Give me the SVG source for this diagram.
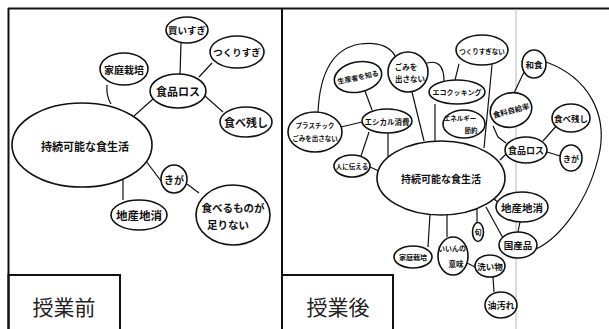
<svg xmlns="http://www.w3.org/2000/svg" width="609" height="329" viewBox="0 0 609 329">
<style>
.b{fill:#fff;stroke:#111;stroke-width:1.6}
.c{fill:none;stroke:#111;stroke-width:1.2}
.f{fill:none;stroke:#111;stroke-width:2}
.t{font-family:"Noto Sans CJK JP","Noto Sans CJK SC",sans-serif;text-anchor:middle;dominant-baseline:central;fill:#111;font-weight:bold}
.lab{font-family:"Noto Sans CJK JP","Noto Sans CJK SC",sans-serif;text-anchor:middle;font-size:21px;fill:#222}
</style>
<rect width="609" height="329" fill="#fff"/>
<g id="frame">
<path class="f" d="M8,8.5 H609 M8.5,8 V329 M282,8 V329"/>
<path d="M516,9 V329" stroke="#b5b5b5" stroke-width="1" fill="none"/>
<rect class="f" x="8.5" y="275" width="111.5" height="60" fill="#fff"/>
<rect class="f" x="282" y="275" width="111" height="60" fill="#fff"/>
<text class="lab" x="64" y="315">授業前</text>
<text class="lab" x="338" y="315">授業後</text>
</g>
<g id="connectors">
<path class="c" d="M181,43 L180,75"/>
<path class="c" d="M212,63 L199,77"/>
<path class="c" d="M205,96 L223,112"/>
<path class="c" d="M153,99 L134,116"/>
<path class="c" d="M107,85 Q106,96 111,104"/>
<path class="c" d="M146,161 L161,181"/>
<path class="c" d="M187,184 L199,193"/>
<path class="c" d="M123,179 L123,200"/>
<path class="c" d="M318,112 C320,70 335,48 360,44 C380,41 392,48 396,58"/>
<path class="c" d="M427,63 C438,60 444,66 444,81"/>
<path class="c" d="M412,92 L424,141"/>
<path class="c" d="M365,91 L372,110"/>
<path class="c" d="M341,127 L362,122"/>
<path class="c" d="M369,132 L361,156"/>
<path class="c" d="M388,133 L388,157"/>
<path class="c" d="M370,167 L379,171"/>
<path class="c" d="M459,64 L455,80"/>
<path class="c" d="M492,65 L484,148"/>
<path class="c" d="M435,104 L435,141"/>
<path class="c" d="M524,72 L514,93"/>
<path class="c" d="M493,126 L498,137 L506,143"/>
<path class="c" d="M506,154 L500,160"/>
<path class="c" d="M543,141 L558,124"/>
<path class="c" d="M547,152 L560,156"/>
<path class="c" d="M494,199 L499,203"/>
<path class="c" d="M520,222 L518,232"/>
<path class="c" d="M486,207 L503,238"/>
<path class="c" d="M477,209 L477,223"/>
<path class="c" d="M447,215 L447,237"/>
<path class="c" d="M430,214 L428,247"/>
<path class="c" d="M467,263 L475,267"/>
<path class="c" d="M493,277 L494,292"/>
<path class="c" d="M536,249 C560,238 590,200 600,150 C606,115 590,78 546,62"/>
</g>
<g id="L-main"><ellipse class="b" cx="82" cy="145" rx="70" ry="42"/><text class="t" x="85" y="146" font-size="11">持続可能な食生活</text></g>
<g id="L-kaisugi"><ellipse class="b" cx="187" cy="30" rx="21" ry="13"/><text class="t" x="187" y="30" font-size="9.5">買いすぎ</text></g>
<g id="L-tsukurisugi"><ellipse class="b" cx="237" cy="52" rx="27" ry="16"/><text class="t" x="237" y="52" font-size="9.5">つくりすぎ</text></g>
<g id="L-katei"><ellipse class="b" cx="124" cy="69" rx="24" ry="16"/><text class="t" x="124" y="69" font-size="10">家庭栽培</text></g>
<g id="L-foodloss"><ellipse class="b" cx="178" cy="91" rx="28" ry="17"/><text class="t" x="178" y="91" font-size="11">食品ロス</text></g>
<g id="L-tabenokoshi"><ellipse class="b" cx="246" cy="122" rx="26" ry="15"/><text class="t" x="246" y="122" font-size="11">食べ残し</text></g>
<g id="L-kiga"><ellipse class="b" cx="174" cy="179" rx="13" ry="14"/><text class="t" x="174" y="179" font-size="10">きが</text></g>
<g id="L-tarinai"><ellipse class="b" cx="233" cy="215" rx="37" ry="30"/><text class="t" x="233" y="207" font-size="10.5">食べるものが</text><text class="t" x="228" y="224" font-size="10.5">足りない</text></g>
<g id="L-chisan"><ellipse class="b" cx="139" cy="215" rx="28" ry="15"/><text class="t" x="139" y="215" font-size="11.5">地産地消</text></g>
<g id="R-main"><ellipse class="b" cx="441" cy="178" rx="64" ry="37"/><text class="t" x="441" y="178" font-size="10">持続可能な食生活</text></g>
<g id="R-seisansha"><ellipse class="b" cx="358" cy="77" rx="24" ry="15" transform="rotate(-12 358 77)"/><text class="t" x="358" y="77" font-size="7" transform="rotate(-12 358 77)">生産者を知る</text></g>
<g id="R-gomi"><ellipse class="b" cx="408" cy="72" rx="20" ry="20"/><text class="t" x="406" y="66" font-size="7.5">ごみを</text><text class="t" x="410" y="78" font-size="7.5">出さない</text></g>
<g id="R-ethical"><ellipse class="b" cx="387" cy="121" rx="25" ry="12"/><text class="t" x="387" y="121" font-size="7.5">エシカル消費</text></g>
<g id="R-plastic"><ellipse class="b" cx="315" cy="132" rx="27" ry="20"/><text class="t" x="315" y="125" font-size="6.5">プラスチック</text><text class="t" x="315" y="138" font-size="6.5">ごみを出さない</text></g>
<g id="R-tsutaeru"><ellipse class="b" cx="352" cy="166" rx="18" ry="11"/><text class="t" x="352" y="166" font-size="6.5">人に伝える</text></g>
<g id="R-tsukurisuginai"><ellipse class="b" cx="482" cy="50" rx="26" ry="15"/><text class="t" x="482" y="51" font-size="6.5">つくりすぎない</text></g>
<g id="R-ecocooking"><ellipse class="b" cx="457" cy="92" rx="28" ry="12"/><text class="t" x="457" y="92" font-size="7">エコクッキング</text></g>
<g id="R-energy"><ellipse class="b" cx="464" cy="124" rx="21" ry="14"/><text class="t" x="460" y="118" font-size="6.5">エネルギー</text><text class="t" x="471" y="130" font-size="6.5">節約</text></g>
<g id="R-jikyu"><ellipse class="b" cx="511" cy="110" rx="21" ry="17" transform="rotate(-15 511 110)"/><text class="t" x="511" y="110" font-size="7.5" transform="rotate(-15 511 110)">食料自給率</text></g>
<g id="R-washoku"><ellipse class="b" cx="534" cy="64" rx="12" ry="14"/><text class="t" x="534" y="64" font-size="8.5">和食</text></g>
<g id="R-tabenokoshi"><ellipse class="b" cx="571" cy="118" rx="19" ry="14"/><text class="t" x="571" y="118" font-size="8.5">食べ残し</text></g>
<g id="R-foodloss"><ellipse class="b" cx="526" cy="150" rx="21" ry="13"/><text class="t" x="526" y="150" font-size="9">食品ロス</text></g>
<g id="R-kiga"><ellipse class="b" cx="571" cy="158" rx="11" ry="13"/><text class="t" x="571" y="158" font-size="8">きが</text></g>
<g id="R-chisan"><ellipse class="b" cx="522" cy="207" rx="26" ry="15"/><text class="t" x="522" y="207" font-size="10.5">地産地消</text></g>
<g id="R-kokusan"><ellipse class="b" cx="518" cy="245" rx="19" ry="13"/><text class="t" x="518" y="245" font-size="9.5">国産品</text></g>
<g id="R-shun"><ellipse class="b" cx="478" cy="232" rx="5.5" ry="9.5"/><text class="t" x="478" y="232" font-size="7">旬</text></g>
<g id="R-araimono"><ellipse class="b" cx="490" cy="266" rx="15" ry="11"/><text class="t" x="490" y="266" font-size="8.5">洗い物</text></g>
<g id="R-abura"><ellipse class="b" cx="501" cy="305" rx="16" ry="13"/><text class="t" x="501" y="305" font-size="9">油汚れ</text></g>
<g id="R-imi"><ellipse class="b" cx="453" cy="256" rx="15" ry="19"/><text class="t" x="452" y="248" font-size="7">いいんの</text><text class="t" x="456" y="263" font-size="7.5">意味</text></g>
<g id="R-katei"><ellipse class="b" cx="413" cy="257" rx="19" ry="11"/><text class="t" x="413" y="257" font-size="7">家庭栽培</text></g>
</svg>
